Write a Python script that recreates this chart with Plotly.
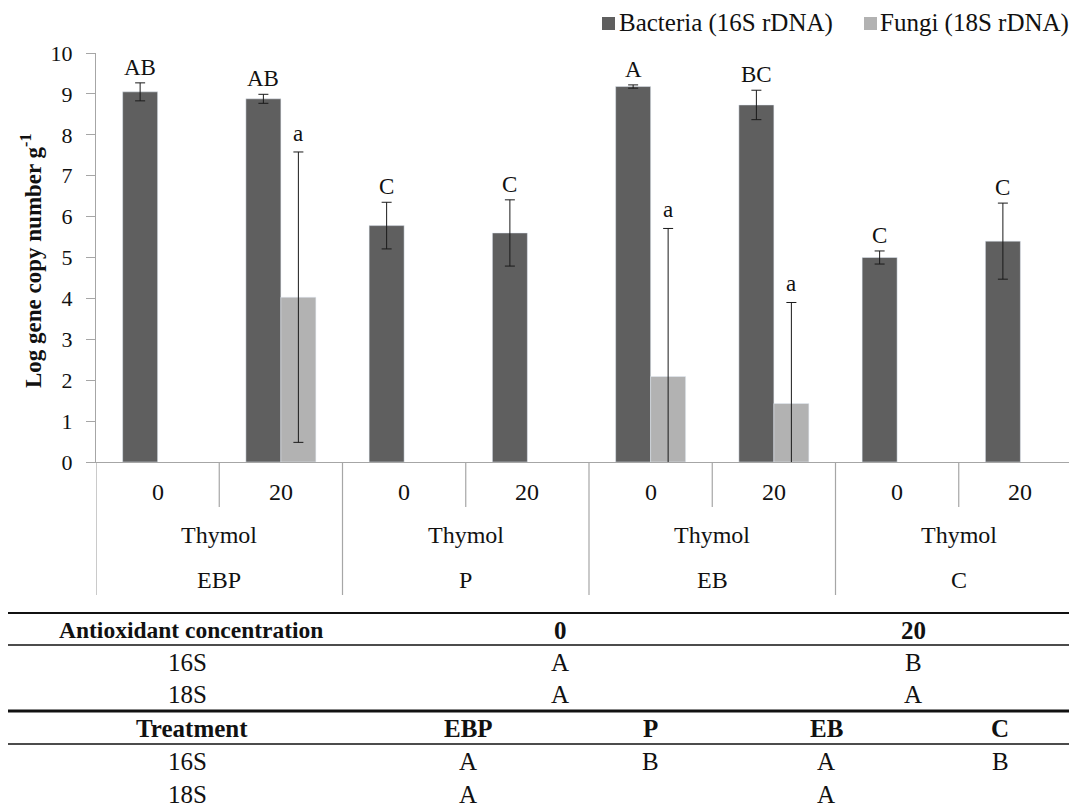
import plotly.graph_objects as go

# data
treatments = ["EBP", "P", "EB", "C"]
concentrations = ["0", "20"]
antioxidant = "Thymol"

bacteria = [9.05, 8.88, 5.78, 5.60, 9.18, 8.73, 5.00, 5.40]
bacteria_err = [0.22, 0.11, 0.57, 0.81, 0.04, 0.36, 0.16, 0.93]
bacteria_letters = ["AB", "AB", "C", "C", "A", "BC", "C", "C"]

fungi = [None, 4.03, None, None, 2.09, 1.43, None, None]
fungi_err = [None, 3.55, None, None, 3.62, 2.47, None, None]
fungi_letters = ["", "a", "", "", "a", "a", "", ""]

conc_header = ["0", "20"]
conc_16s = ["A", "B"]
conc_18s = ["A", "A"]
treat_16s = ["A", "B", "A", "B"]
treat_18s = ["A", "", "A", ""]

# the page body has an 8px margin, so the figure is drawn 8px in from the window corner
OFF = 8
W, H = 1077 - OFF, 811 - OFF
L, R, T, B = 96 - OFF, 0, 53 - OFF, 349  # plot area in window pixels: x 96..1077, y 53..462
PW = W - L - R
PH = H - T - B
FONT = "Liberation Serif, Times New Roman, serif"
DARK = "#5f5f5f"
LIGHT = "#b2b2b2"
AXIS = "#a6a6a6"
INK = "#111"


def px(x):
    # window x pixel -> paper x
    return (x - OFF - L) / PW


def py(y):
    # window y pixel -> paper y
    return (462 - y) / PH


xs = list(range(len(bacteria)))
ncat = len(xs)
cat_px = 123.25
xmax = -0.5 + PW / cat_px
half = 35 / cat_px / 2

fig = go.Figure()
fig.add_trace(go.Bar(
    x=xs, y=bacteria, name="Bacteria (16S rDNA)", marker_color=DARK,
    error_y=dict(type="data", array=bacteria_err, color="#1a1a1a", thickness=1, width=5),
))
fig.add_trace(go.Bar(
    x=xs, y=fungi, name="Fungi (18S rDNA)", marker_color=LIGHT,
    error_y=dict(type="data", array=fungi_err, color="#1a1a1a", thickness=1, width=5),
))

ann = []


def note(x, y, text, size, xref="paper", yref="paper", bold=False, **kw):
    d = dict(x=x, y=y, xref=xref, yref=yref, showarrow=False,
             text=f"<b>{text}</b>" if bold else text,
             xanchor=kw.pop("xanchor", "center"), yanchor=kw.pop("yanchor", "middle"),
             font=dict(size=size, color=INK, family=FONT))
    d.update(kw)
    ann.append(d)


# significance letters
for i in xs:
    note(i - half, bacteria[i] + bacteria_err[i], bacteria_letters[i], 23, "x", "y",
         yanchor="bottom", yshift=1)
    if fungi_letters[i]:
        note(i + half, fungi[i] + fungi_err[i], fungi_letters[i], 23, "x", "y",
             yanchor="bottom", yshift=4)

shapes = []
# multi-level category axis
for i in xs:
    note(i, py(492), concentrations[i % 2], 24, "x", "paper")
for g, name in enumerate(treatments):
    note(2 * g + 0.5, py(535), antioxidant, 24, "x", "paper")
    note(2 * g + 0.5, py(580), name, 24, "x", "paper")
for k in range(ncat + 1):
    b = k - 0.5
    if b > xmax:
        continue
    bottom = py(595) if k % 2 == 0 else py(507)
    shapes.append(dict(type="line", xref="x", yref="paper", x0=b, x1=b, y0=0, y1=bottom,
                       line=dict(color=AXIS, width=1.2)))

# legend drawn by hand to keep Excel's tight spacing
legend_items = [(602, 617, "Bacteria (16S rDNA)", DARK), (864, 878, "Fungi (18S rDNA)", LIGHT)]
for sx, tx, label, col in legend_items:
    shapes.append(dict(type="rect", xref="paper", yref="paper", x0=px(sx), x1=px(sx + 13),
                       y0=py(30), y1=py(17), fillcolor=col, line=dict(width=0)))
    note(px(tx), py(23), label, 25, xanchor="left")

# y axis title
note(px(31), py(261), "Log gene copy number g<sup>-1</sup>", 23, bold=True, textangle=-90)

# table under the chart
rules = [(613, 1.8), (645, 1.5), (711, 2.8), (744, 1.5)]
for yy, wd in rules:
    shapes.append(dict(type="line", xref="paper", yref="paper", x0=px(6), x1=px(1077),
                       y0=py(yy), y1=py(yy), line=dict(color=INK, width=wd)))

note(px(191), py(630), "Antioxidant concentration", 23.5, bold=True)
note(px(187), py(662), "16S", 25)
note(px(187), py(694), "18S", 25)
conc_x = [560, 913]
for cx, h, a, b in zip(conc_x, conc_header, conc_16s, conc_18s):
    note(px(cx), py(630), h, 25, bold=True)
    note(px(cx), py(662), a, 25)
    note(px(cx), py(694), b, 25)

note(px(192), py(728), "Treatment", 25, bold=True)
note(px(187), py(761), "16S", 25)
note(px(187), py(794), "18S", 25)
treat_x = [468, 650, 826, 1000]
for cx, h, a, b in zip(treat_x, treatments, treat_16s, treat_18s):
    note(px(cx), py(728), h, 25, bold=True)
    note(px(cx), py(761), a, 25)
    if b:
        note(px(cx), py(794), b, 25)

fig.update_layout(
    width=W, height=H,
    margin=dict(l=L, r=R, t=T, b=B),
    paper_bgcolor="white", plot_bgcolor="white",
    font=dict(family=FONT, size=20, color=INK),
    barmode="group", bargap=1 - 2 * 35 / cat_px, bargroupgap=0,
    showlegend=False,
    xaxis=dict(range=[-0.5, xmax], showticklabels=False, ticks="", showgrid=False,
               showline=True, linecolor=AXIS, linewidth=1.2, zeroline=False, fixedrange=True),
    yaxis=dict(range=[0, 10], dtick=1, showgrid=False, zeroline=False, showline=True,
               linecolor=AXIS, linewidth=1.2, ticks="outside", ticklen=9, tickcolor=AXIS,
               tickwidth=1.2, ticklabelstandoff=9, tickfont=dict(size=22, color=INK)),
    annotations=ann,
    shapes=shapes,
)

fig.write_html("out.html")
